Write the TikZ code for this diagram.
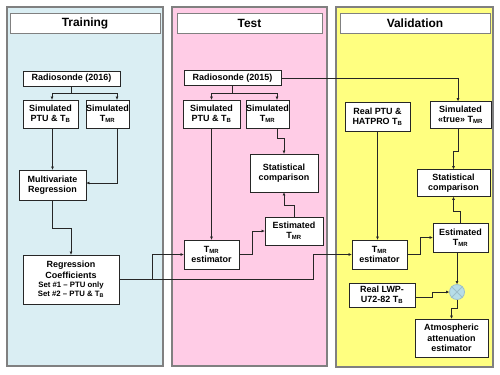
\documentclass[tikz,border=0pt]{standalone}
\usepackage{fontspec}
\setmainfont{Liberation Sans}
\usetikzlibrary{arrows.meta,calc}
\definecolor{trainbg}{HTML}{DAEEF3}
\definecolor{testbg}{HTML}{FFCCE6}
\definecolor{valbg}{HTML}{FFFF80}
\definecolor{panelline}{HTML}{808080}
\definecolor{circfill}{HTML}{B7DDE8}
\definecolor{circline}{HTML}{9DBFCB}
\tikzset{
  panel/.style={draw=panelline,line width=1.1pt},
  header/.style={draw=panelline,fill=white,line width=1pt,inner sep=0pt,
    font=\fontsize{12}{14}\selectfont\bfseries},
  box/.style={draw=black!85,fill=white,line width=0.8pt,inner sep=0pt,align=center,
    font=\fontsize{9}{10.4}\selectfont\bfseries},
  arr/.style={draw=black!85,line width=0.7pt,-{Triangle[length=3pt,width=2.6pt]}},
}
\begin{document}
\begin{tikzpicture}[x=1bp,y=-1bp]
\useasboundingbox[fill=white] (0,0) rectangle (500,374);
% panels
\fill[trainbg] (7,7) rectangle (163,366);
\draw[panel] (7,7) rectangle (163,366);
\fill[testbg] (172,7) rectangle (327,366);
\draw[panel] (172,7) rectangle (327,366);
\fill[valbg] (336,7) rectangle (493,367);
\draw[panel] (336,7) rectangle (493,367);
% headers
\node[header,minimum width=150bp,minimum height=20bp] (thead) at (85,23) {Training};
\node[header,minimum width=145bp,minimum height=20bp] (shead) at (249.5,23) {Test};
\node[header,minimum width=150bp,minimum height=20bp] (vhead) at (415,23) {Validation};
% Training
\node[box,minimum width=97bp,minimum height=15bp] (r16) at (71.5,78.5) {Radiosonde (2016)};
\node[box,minimum width=55bp,minimum height=28bp] (tptu) at (50.5,114) {Simulated\\PTU \& T\textsubscript{B}};
\node[box,minimum width=39bp,minimum height=28bp] (ttmr) at (107.5,114) {Simulated\\T\textsubscript{MR}};
\node[box,minimum width=67bp,minimum height=30bp] (mr) at (52.5,185) {Multivariate\\Regression};
\node[box,minimum width=96bp,minimum height=49bp] (rc) at (71,279.5) {Regression\\Coefficients\\[-1pt]
  {\fontsize{7.8}{9.4}\selectfont Set \#1 – PTU only}\\[-1.5pt]
  {\fontsize{7.8}{9.4}\selectfont Set \#2 – PTU \& T\textsubscript{B}}};
% Test
\node[box,minimum width=97bp,minimum height=15bp] (r15) at (232.5,78) {Radiosonde (2015)};
\node[box,minimum width=57bp,minimum height=28bp] (sptu) at (211.5,114) {Simulated\\PTU \& T\textsubscript{B}};
\node[box,minimum width=39bp,minimum height=28bp] (stmr) at (267.5,114) {Simulated\\T\textsubscript{MR}};
\node[box,minimum width=68bp,minimum height=38bp] (ssc) at (284,173) {Statistical\\comparison};
\node[box,minimum width=58bp,minimum height=28bp] (sest) at (294,231) {Estimated\\T\textsubscript{MR}};
\node[box,minimum width=55bp,minimum height=29bp] (sestim) at (211.5,254.5) {T\textsubscript{MR}\\estimator};
% Validation
\node[box,minimum width=65bp,minimum height=29bp] (vptu) at (377.5,116.5) {Real PTU \&\\HATPRO T\textsubscript{B}};
\node[box,minimum width=61bp,minimum height=27bp] (vtrue) at (460.5,115) {Simulated\\«true» T\textsubscript{MR}};
\node[box,minimum width=73bp,minimum height=27bp] (vsc) at (453.5,183) {Statistical\\comparison};
\node[box,minimum width=55bp,minimum height=29bp] (vest) at (460.5,237.5) {Estimated\\T\textsubscript{MR}};
\node[box,minimum width=55bp,minimum height=29bp] (vestim) at (379.5,254.5) {T\textsubscript{MR}\\estimator};
\node[box,minimum width=66bp,minimum height=24bp] (lwp) at (382,295) {Real LWP-\\U72-82 T\textsubscript{B}};
\node[circle,draw=circline,fill=circfill,line width=0.8pt,minimum size=15bp,inner sep=0pt] (circ) at (457,292) {};
\draw[circline,line width=0.8pt] (circ.north west) -- (circ.south east) (circ.north east) -- (circ.south west);
\node[box,minimum width=73bp,minimum height=38bp] (atm) at (451.5,338) {Atmospheric\\attenuation\\estimator};
% Training connectors
\draw[arr] (r16.south) -- ++(0,7) -| ($(tptu.north)+(1.5,0)$);
\draw[arr] (r16.south) -- ++(0,7) -| ($(ttmr.north)+(9.5,0)$);
\draw[arr] (tptu.south -| mr.north) -- (mr.north);
\draw[arr] ($(ttmr.south)+(9.5,0)$) |- ($(mr.east)+(0,-2)$);
\draw[arr] (mr.south) -- ++(0,28) -| (rc.north);
\draw[arr] (rc.east) -- ++(33,0) |- (sestim.west);
\draw[arr] (rc.east) -- ++(194,0) |- (vestim.west);
% Test connectors
\draw[arr] (r15.south) -- ++(0,7.5) -| (sptu.north);
\draw[arr] (r15.south) -- ++(0,7.5) -| ($(stmr.north)+(9.5,0)$);
\draw[arr] (r15.east) -| ($(vtrue.north)+(-2.5,0)$);
\draw[arr] ($(stmr.south)+(10,0)$) -- ++(0,10) -| (ssc.north);
\draw[arr] (sptu.south) -- (sestim.north);
\draw[arr] (sestim.east) -- ++(13,0) |- (sest.west);
\draw[arr] (sest.north) -- ++(0,-11) -| (ssc.south);
% Validation connectors
\draw[arr] (vptu.south) -- (vptu.south |- vestim.north);
\draw[arr] ($(vtrue.south)+(-2.5,0)$) -- ++(0,22) -| (vsc.north);
\draw[arr] (vestim.east) -- ++(13,0) |- (vest.west);
\draw[arr] (vest.north) -- ++(0,-11) -| (vsc.south);
\draw[arr] (vest.south -| circ.north) -- (circ.north);
\draw[arr] ($(lwp.east)+(0,2)$) -- ++(17,0) |- (circ.west);
\draw[arr] (circ.south) -- ++(0,8.5) -| (atm.north);
\end{tikzpicture}
\end{document}
